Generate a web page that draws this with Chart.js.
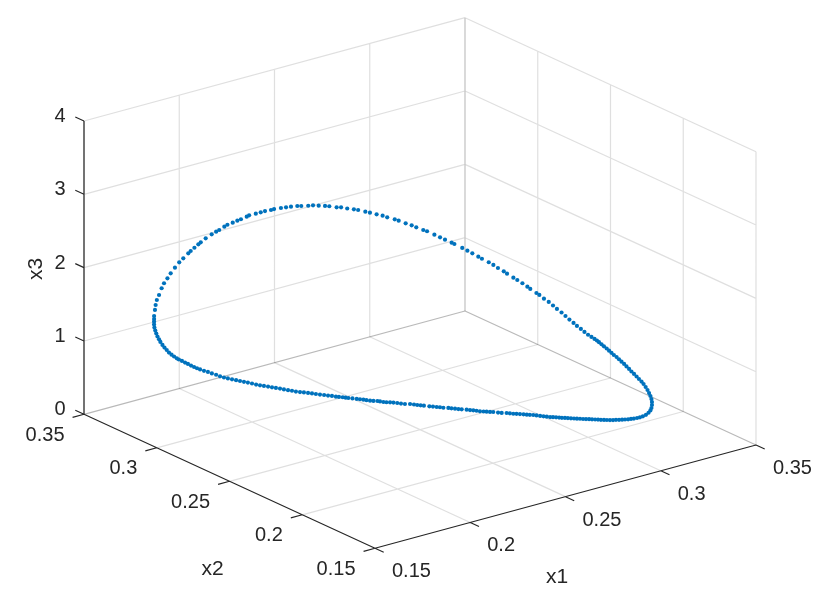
<!DOCTYPE html>
<html>
<head>
<meta charset="utf-8">
<title>x1 x2 x3</title>
<script src="https://cdn.jsdelivr.net/npm/chart.js@4/dist/chart.umd.min.js"></script>
<style>
  html, body { margin: 0; background: #fff; }
  canvas { display: block; }
</style>
</head>
<body>
<canvas id="orbitChart" width="831" height="603"></canvas>
<script>
// tick values
const x1Ticks = [0.15, 0.2, 0.25, 0.3, 0.35];
const x2Ticks = [0.15, 0.2, 0.25, 0.3, 0.35];
const x3Ticks = [0, 1, 2, 3, 4];
const x1Labels = ['0.15', '0.2', '0.25', '0.3', '0.35'];
const x2Labels = ['0.15', '0.2', '0.25', '0.3', '0.35'];
const x3Labels = ['0', '1', '2', '3', '4'];

// orbit samples, depth estimated from the view
const x1Values = [
  // upper branch, left to right
  0.1703, 0.1703, 0.1703, 0.1706, 0.1708, 0.1712, 0.1719, 0.1728, 0.1736, 0.1747,
  0.1758, 0.1772, 0.1786, 0.1799, 0.1816, 0.1824, 0.1836, 0.1849, 0.1857, 0.1873,
  0.1893, 0.1908, 0.1918, 0.1935, 0.1945, 0.1963, 0.1978, 0.1990, 0.2009, 0.2017,
  0.2039, 0.2055, 0.2069, 0.2089, 0.2099, 0.2122, 0.2139, 0.2155, 0.2176, 0.2189,
  0.2212, 0.2228, 0.2247, 0.2268, 0.2282, 0.2306, 0.2321, 0.2341, 0.2363, 0.2377,
  0.2401, 0.2416, 0.2438, 0.2458, 0.2473, 0.2498, 0.2511, 0.2534, 0.2554, 0.2569,
  0.2592, 0.2605, 0.2629, 0.2648, 0.2664, 0.2686, 0.2695, 0.2721, 0.2738, 0.2754,
  0.2774, 0.2786, 0.2809, 0.2824, 0.2839, 0.2858, 0.2869, 0.2890, 0.2903, 0.2920,
  0.2936, 0.2946, 0.2966, 0.2976, 0.2991, 0.3007, 0.3021, 0.3034, 0.3049, 0.3062,
  0.3075, 0.3089, 0.3100, 0.3113, 0.3125, 0.3137, 0.3148, 0.3158, 0.3166, 0.3173,
  0.3181, 0.3189, 0.3198, 0.3206, 0.3214, 0.3222, 0.3231, 0.3239, 0.3247, 0.3256,
  0.3264, 0.3272, 0.3280, 0.3289, 0.3297, 0.3305, 0.3313, 0.3320, 0.3327, 0.3333,
  0.3338, 0.3343, 0.3346, 0.3348, 0.3348,
  // lower branch, right to left
  0.3310, 0.3307, 0.3301, 0.3292, 0.3282, 0.3272, 0.3263,
  0.3202, 0.3193, 0.3183, 0.3173, 0.3163, 0.3153, 0.3143, 0.3133, 0.3123, 0.3113,
  0.3103, 0.3093, 0.3084, 0.3074, 0.3064,
  0.3011, 0.3001, 0.2991, 0.2981, 0.2971, 0.2961, 0.2951, 0.2941, 0.2931, 0.2921,
  0.2912, 0.2902, 0.2892, 0.2882,
  0.2857, 0.2846, 0.2835, 0.2823, 0.2812, 0.2801, 0.2791, 0.2780, 0.2768, 0.2757,
  0.2746, 0.2735, 0.2724, 0.2708, 0.2696, 0.2680, 0.2669, 0.2658, 0.2648, 0.2636,
  0.2625, 0.2614, 0.2603, 0.2592, 0.2576, 0.2565, 0.2554, 0.2542, 0.2532, 0.2515,
  0.2504, 0.2493, 0.2481, 0.2469, 0.2451, 0.2440, 0.2429, 0.2418, 0.2405, 0.2388,
  0.2375, 0.2363, 0.2350, 0.2339, 0.2327, 0.2317, 0.2306, 0.2297, 0.2284, 0.2273,
  0.2261, 0.2251, 0.2240, 0.2229, 0.2215, 0.2201, 0.2192, 0.2183,
  0.2206, 0.2196, 0.2183, 0.2170, 0.2157, 0.2143, 0.2130, 0.2117, 0.2104, 0.2090,
  0.2077, 0.2064, 0.2051, 0.2038, 0.2024, 0.2011, 0.1998, 0.1985,
  0.2008, 0.1994, 0.1981, 0.1968, 0.1955, 0.1941, 0.1928, 0.1915, 0.1902, 0.1889,
  0.1875, 0.1862, 0.1849, 0.1836,
  0.1858, 0.1845, 0.1832, 0.1819, 0.1809, 0.1799, 0.1789, 0.1779, 0.1769, 0.1759,
  0.1749, 0.1742, 0.1733, 0.1725, 0.1716, 0.1709, 0.1701, 0.1695, 0.1688, 0.1683,
  0.1678, 0.1674, 0.1671, 0.1668, 0.1667
];
const x2Values = [
  0.3284, 0.3284, 0.3284, 0.3282, 0.3280, 0.3277, 0.3271, 0.3265, 0.3259, 0.3250,
  0.3242, 0.3231, 0.3220, 0.3209, 0.3197, 0.3191, 0.3181, 0.3171, 0.3165, 0.3152,
  0.3137, 0.3126, 0.3118, 0.3105, 0.3097, 0.3084, 0.3072, 0.3063, 0.3048, 0.3042,
  0.3025, 0.3012, 0.3001, 0.2986, 0.2978, 0.2961, 0.2948, 0.2935, 0.2919, 0.2909,
  0.2891, 0.2879, 0.2865, 0.2849, 0.2838, 0.2819, 0.2808, 0.2792, 0.2775, 0.2764,
  0.2746, 0.2734, 0.2717, 0.2702, 0.2690, 0.2671, 0.2661, 0.2643, 0.2628, 0.2616,
  0.2598, 0.2589, 0.2570, 0.2556, 0.2543, 0.2526, 0.2519, 0.2499, 0.2486, 0.2473,
  0.2458, 0.2449, 0.2432, 0.2420, 0.2408, 0.2393, 0.2385, 0.2369, 0.2359, 0.2346,
  0.2333, 0.2326, 0.2310, 0.2303, 0.2291, 0.2279, 0.2268, 0.2258, 0.2246, 0.2236,
  0.2226, 0.2216, 0.2207, 0.2197, 0.2188, 0.2179, 0.2170, 0.2162, 0.2156, 0.2151,
  0.2144, 0.2138, 0.2131, 0.2125, 0.2119, 0.2113, 0.2106, 0.2100, 0.2093, 0.2087,
  0.2081, 0.2074, 0.2068, 0.2062, 0.2055, 0.2049, 0.2042, 0.2037, 0.2032, 0.2027,
  0.2023, 0.2020, 0.2017, 0.2016, 0.2016,
  0.1970, 0.1973, 0.1978, 0.1984, 0.1992, 0.1999, 0.2007,
  0.1949, 0.1957, 0.1964, 0.1972, 0.1979, 0.1987, 0.1995, 0.2002, 0.2010, 0.2018,
  0.2025, 0.2033, 0.2041, 0.2048, 0.2056,
  0.2007, 0.2015, 0.2022, 0.2030, 0.2038, 0.2045, 0.2053, 0.2061, 0.2068, 0.2076,
  0.2083, 0.2091, 0.2099, 0.2106,
  0.2096, 0.2104, 0.2113, 0.2122, 0.2130, 0.2139, 0.2147, 0.2155, 0.2164, 0.2173,
  0.2181, 0.2190, 0.2198, 0.2211, 0.2220, 0.2232, 0.2240, 0.2249, 0.2257, 0.2266,
  0.2275, 0.2283, 0.2291, 0.2300, 0.2313, 0.2321, 0.2330, 0.2339, 0.2347, 0.2359,
  0.2368, 0.2376, 0.2386, 0.2395, 0.2409, 0.2417, 0.2426, 0.2434, 0.2444, 0.2457,
  0.2467, 0.2477, 0.2486, 0.2495, 0.2504, 0.2512, 0.2521, 0.2527, 0.2537, 0.2546,
  0.2555, 0.2563, 0.2572, 0.2580, 0.2591, 0.2601, 0.2608, 0.2616,
  0.2672, 0.2680, 0.2690, 0.2700, 0.2710, 0.2720, 0.2731, 0.2741, 0.2751, 0.2761,
  0.2771, 0.2782, 0.2792, 0.2802, 0.2812, 0.2822, 0.2833, 0.2843,
  0.2900, 0.2910, 0.2920, 0.2930, 0.2941, 0.2951, 0.2961, 0.2971, 0.2981, 0.2992,
  0.3002, 0.3012, 0.3022, 0.3032,
  0.3090, 0.3100, 0.3110, 0.3120, 0.3128, 0.3135, 0.3143, 0.3151, 0.3158, 0.3166,
  0.3174, 0.3179, 0.3186, 0.3193, 0.3199, 0.3205, 0.3210, 0.3216, 0.3221, 0.3224,
  0.3228, 0.3231, 0.3234, 0.3236, 0.3237
];
const x3Values = [
  1.317, 1.354, 1.395, 1.477, 1.545, 1.613, 1.682, 1.773, 1.841, 1.909,
  1.977, 2.054, 2.127, 2.182, 2.250, 2.281, 2.326, 2.373, 2.400, 2.455,
  2.509, 2.545, 2.568, 2.613, 2.640, 2.667, 2.695, 2.714, 2.749, 2.768,
  2.790, 2.809, 2.827, 2.841, 2.854, 2.868, 2.877, 2.886, 2.895, 2.895,
  2.899, 2.905, 2.899, 2.895, 2.891, 2.877, 2.877, 2.861, 2.850, 2.841,
  2.818, 2.804, 2.782, 2.763, 2.741, 2.714, 2.695, 2.659, 2.632, 2.605,
  2.568, 2.550, 2.504, 2.468, 2.436, 2.395, 2.377, 2.323, 2.286, 2.250,
  2.204, 2.176, 2.127, 2.091, 2.050, 2.005, 1.972, 1.917, 1.886, 1.841,
  1.795, 1.764, 1.709, 1.682, 1.631, 1.586, 1.538, 1.491, 1.443, 1.395,
  1.347, 1.300, 1.259, 1.218, 1.177, 1.139, 1.109, 1.082, 1.061, 1.038,
  1.010, 0.982, 0.952, 0.923, 0.893, 0.863, 0.836, 0.805, 0.773, 0.741,
  0.707, 0.673, 0.638, 0.604, 0.570, 0.536, 0.502, 0.468, 0.427, 0.386,
  0.345, 0.304, 0.263, 0.222, 0.181,
  0.209, 0.175, 0.143, 0.116, 0.095, 0.082, 0.072,
  0.160, 0.154, 0.150, 0.147, 0.145, 0.143, 0.142, 0.140, 0.140, 0.140,
  0.142, 0.143, 0.145, 0.147, 0.149,
  0.233, 0.235, 0.236, 0.239, 0.240, 0.243, 0.245, 0.248, 0.251, 0.252,
  0.255, 0.258, 0.260, 0.263,
  0.295, 0.300, 0.305, 0.312, 0.318, 0.320, 0.322, 0.327, 0.331, 0.334,
  0.335, 0.341, 0.345, 0.345, 0.350, 0.359, 0.360, 0.363, 0.365, 0.368,
  0.375, 0.382, 0.386, 0.390, 0.395, 0.399, 0.403, 0.409, 0.413, 0.417,
  0.423, 0.427, 0.432, 0.436, 0.445, 0.450, 0.454, 0.461, 0.468, 0.468,
  0.474, 0.481, 0.487, 0.491, 0.492, 0.495, 0.502, 0.509, 0.510, 0.513,
  0.520, 0.527, 0.532, 0.537, 0.543, 0.550, 0.554, 0.559,
  0.496, 0.500, 0.509, 0.515, 0.522, 0.529, 0.536, 0.544, 0.551, 0.558,
  0.563, 0.569, 0.580, 0.588, 0.599, 0.610, 0.619, 0.627,
  0.569, 0.578, 0.586, 0.597, 0.610, 0.623, 0.634, 0.645, 0.656, 0.667,
  0.680, 0.693, 0.709, 0.730,
  0.680, 0.700, 0.716, 0.734, 0.750, 0.768, 0.787, 0.809, 0.828, 0.850,
  0.870, 0.886, 0.911, 0.935, 0.965, 0.999, 1.034, 1.068, 1.109, 1.146,
  1.184, 1.225, 1.265, 1.306, 1.347
];

// view of the 3d box: where x1=x2=0.15, x3=0 lands and how far one unit moves
const viewOrigin = { x: 375, y: 548.3 };
const x1Dir = { x: 1905, y: -516.5 };
const x2Dir = { x: -1455, y: -670 };
const x3Dir = { x: 0, y: -73.33 };
const lim = { lo: 0.15, hi: 0.35, zTop: 4 };
const tickLen = 0.006;

const INK = '#262626';
const GRID = 'rgba(38,38,38,0.15)';
const BOX = 'rgba(38,38,38,0.32)';
const FONT = '"Liberation Sans", Arial, sans-serif';

function project(a, b, c) {
  const u = a - lim.lo, v = b - lim.lo;
  return {
    x: viewOrigin.x + u * x1Dir.x + v * x2Dir.x + c * x3Dir.x,
    y: viewOrigin.y + u * x1Dir.y + v * x2Dir.y + c * x3Dir.y
  };
}

// segs is a list of [from, to] triples, broken up with null points
function segments(segs) {
  const pts = [];
  segs.forEach(([p, q]) => {
    pts.push(project(...p), project(...q), { x: null, y: null });
  });
  return pts;
}

function lineSet(segs, color, width) {
  return {
    type: 'scatter', showLine: true, data: segments(segs),
    borderColor: color, borderWidth: width, pointRadius: 0, spanGaps: false,
    borderCapStyle: 'butt', tension: 0
  };
}

const { lo, hi, zTop } = lim;
const floorGrid = [
  ...x1Ticks.slice(1, 4).map(t => [[t, lo, 0], [t, hi, 0]]),
  ...x2Ticks.slice(1, 4).map(t => [[lo, t, 0], [hi, t, 0]])
];
const leftWall = [
  ...x1Ticks.map(t => [[t, hi, 0], [t, hi, zTop]]),
  ...x3Ticks.slice(1).map(t => [[lo, hi, t], [hi, hi, t]])
];
const rightWall = [
  ...x2Ticks.map(t => [[hi, t, 0], [hi, t, zTop]]),
  ...x3Ticks.slice(1).map(t => [[hi, lo, t], [hi, hi, t]])
];
const backEdges = [
  [[lo, hi, 0], [hi, hi, 0]],
  [[hi, lo, 0], [hi, hi, 0]]
];
const x1Axis = [[[lo, lo, 0], [hi, lo, 0]], ...x1Ticks.map(t => [[t, lo, 0], [t, lo - tickLen, 0]])];
const x2Axis = [[[lo, lo, 0], [lo, hi, 0]], ...x2Ticks.map(t => [[lo, t, 0], [lo - tickLen, t, 0]])];
const x3TickMarks = x3Ticks.map(t => [[lo, hi, t], [lo, hi + tickLen, t]]);

const orbit = x1Values.map((v, i) => project(v, x2Values[i], x3Values[i]));

// tick and axis labels sit next to the projected tick
const axisText = {
  id: 'axisText',
  afterDraw(chart) {
    const { ctx, scales } = chart;
    const put = (s, p, dx, dy, align) => {
      ctx.textAlign = align;
      ctx.fillText(s, scales.x.getPixelForValue(p.x) + dx, scales.y.getPixelForValue(p.y) + dy);
    };
    ctx.save();
    ctx.fillStyle = INK;
    ctx.textBaseline = 'middle';
    ctx.font = '20px ' + FONT;
    x1Ticks.forEach((t, i) => put(x1Labels[i], project(t, lo, 0), 17, 23.5, 'left'));
    x2Ticks.forEach((t, i) => put(x2Labels[i], project(lo, t, 0), -19.5, 21, 'right'));
    x3Ticks.forEach((t, i) => put(x3Labels[i], project(lo, hi, t), -18.5, -4.5, 'right'));
    ctx.font = '21px ' + FONT;
    ctx.textAlign = 'center';
    ctx.fillText('x1', 557, 577);
    ctx.fillText('x2', 212.5, 569);
    ctx.translate(36, 269);
    ctx.rotate(-Math.PI / 2);
    ctx.fillText('x3', 0, 0);
    ctx.restore();
  }
};

new Chart(document.getElementById('orbitChart'), {
  type: 'scatter',
  data: {
    datasets: [
      { data: orbit, pointRadius: 2.1, pointBackgroundColor: '#0072BD', pointBorderWidth: 0, showLine: false },
      lineSet(x1Axis, INK, 1.15),
      lineSet(x2Axis, INK, 1.15),
      lineSet(x3TickMarks, INK, 1.15),
      lineSet([[[lo, hi, 0], [lo, hi, zTop]]], '#666', 1.8),
      lineSet(backEdges, BOX, 1.2),
      lineSet(floorGrid, GRID, 1.2),
      lineSet(leftWall, GRID, 1.2),
      lineSet(rightWall, GRID, 1.2)
    ]
  },
  options: {
    responsive: false,
    animation: false,
    layout: { padding: 0, autoPadding: false },
    plugins: { legend: { display: false }, tooltip: { enabled: false } },
    scales: {
      x: { type: 'linear', min: 0, max: 831, display: false },
      y: { type: 'linear', min: 0, max: 603, reverse: true, display: false }
    }
  },
  plugins: [axisText]
});
</script>
</body>
</html>
